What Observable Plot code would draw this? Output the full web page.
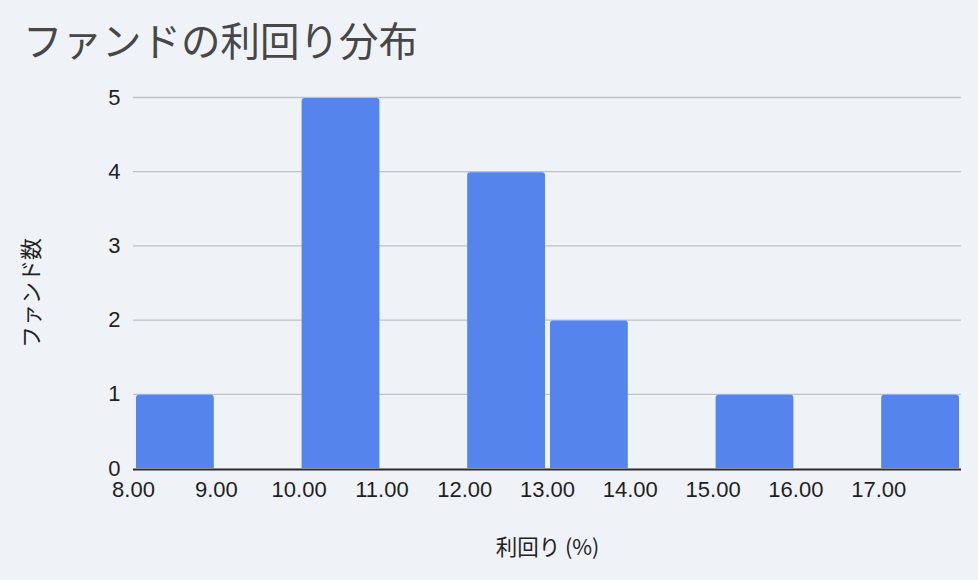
<!DOCTYPE html>
<html>
<head>
<meta charset="utf-8">
<script src="https://cdn.jsdelivr.net/npm/d3@7"></script>
<script src="https://cdn.jsdelivr.net/npm/@observablehq/plot@0.6"></script>
<style>
  html, body { margin: 0; padding: 0; background: #eff3f8; }
  #title {
    height: 70px;
    font-family: "Noto Sans CJK JP", "Noto Sans", sans-serif;
    font-size: 39.5px;
    color: #474747;
    line-height: 70px;
    padding-left: 23px;
    box-sizing: border-box;
    overflow: visible;
  }
  #title span { position: relative; top: 4px; }
  #chart svg { display: block; }
</style>
</head>
<body>
<div id="title"><span>ファンドの利回り分布</span></div>
<div id="chart"></div>
<script>
// Histogram bins of fund yields (%), one unit wide
const binStarts = [8, 9, 10, 11, 12, 13, 14, 15, 16, 17];
const binWidth = 1;
const fundCounts = [1, 0, 5, 0, 4, 2, 0, 1, 0, 1];
const xTicks = [8, 9, 10, 11, 12, 13, 14, 15, 16, 17];
const yTicks = [0, 1, 2, 3, 4, 5];
const xLabel = "利回り (%)";
const yLabel = "ファンド数";

const bins = binStarts.map((x, i) => ({x1: x, x2: x + binWidth, count: fundCounts[i]}))
  .filter(d => d.count > 0);

const barColor = "#5484ec";
const font = "'Liberation Sans', Arial, 'Noto Sans CJK JP', sans-serif";

const chart = Plot.plot({
  width: 978,
  height: 510,
  marginTop: 27,
  marginBottom: 112,
  marginLeft: 133,
  marginRight: 17,
  style: {background: "#eff3f8", fontFamily: font, fontSize: "22px", color: "#1f1f1f"},
  x: {domain: [8, 18], label: null},
  y: {domain: [0, 5], label: null},
  marks: [
    Plot.gridY(yTicks.filter(d => d > 0), {stroke: "#bfc1c5", strokeOpacity: 1, strokeWidth: 1.3}),
    // bars with slightly rounded corners; the bottom corners are pushed below the frame and clipped
    Plot.rectY(bins, {x1: "x1", x2: "x2", y1: 0, y2: "count", fill: barColor,
      insetLeft: 3, insetRight: 2, insetTop: 1, insetBottom: -6, rx: 3, clip: true}),
    Plot.ruleY([0], {stroke: "#2b2b2b", strokeWidth: 2, dy: 1}),
    Plot.axisX({ticks: xTicks, tickFormat: d3.format(".2f"), tickSize: 0, tickPadding: 13, label: null, fontSize: 22}),
    Plot.axisY({ticks: yTicks, tickFormat: d3.format("d"), tickSize: 0, tickPadding: 13, label: null, fontSize: 22}),
    Plot.text([yLabel], {frameAnchor: "left", textAnchor: "middle", dx: -102, dy: 10, rotate: -90,
      fontSize: 22, fill: "#222", fontFamily: "'Noto Sans CJK JP', sans-serif"}),
    Plot.text([xLabel], {frameAnchor: "bottom", textAnchor: "middle", dy: 86, fontSize: 21.5, fill: "#222",
      fontFamily: "'Noto Sans CJK JP', sans-serif"})
  ]
});
document.getElementById("chart").appendChild(chart);
</script>
</body>
</html>
